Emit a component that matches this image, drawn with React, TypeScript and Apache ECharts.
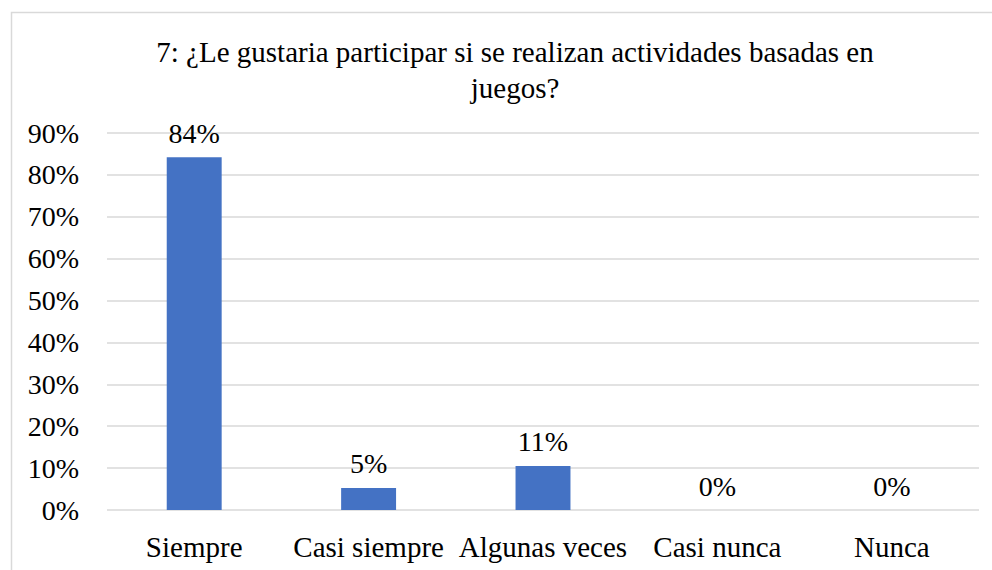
import React, { useEffect, useRef } from "react";
import * as echarts from "echarts";

const titleText = "7: ¿Le gustaria participar si se realizan actividades basadas en\njuegos?";
const categories = ["Siempre", "Casi siempre", "Algunas veces", "Casi nunca", "Nunca"];
const values = [0.8421, 0.0526, 0.1053, 0, 0];
const yTicks = { min: 0, max: 0.9, interval: 0.1 };

const FONT = "Liberation Serif";

export default function App() {
  const ref = useRef<HTMLDivElement>(null);
  useEffect(() => {
    if (!ref.current) return;
    const chart = echarts.init(ref.current, null, { renderer: "svg" });
    chart.setOption({
      animation: false,
      backgroundColor: "#ffffff",
      textStyle: { fontFamily: FONT },
      graphic: [
        {
          type: "rect",
          shape: { x: 11.5, y: 12.5, width: 1000, height: 600 },
          style: { fill: "none", stroke: "#d9d9d9", lineWidth: 1.5 },
          silent: true,
          z: -1,
        },
      ],
      title: {
        text: titleText,
        left: 515,
        top: 34,
        padding: 0,
        textAlign: "center",
        textStyle: {
          fontFamily: FONT,
          fontSize: 29,
          fontWeight: "normal",
          color: "#000",
          lineHeight: 36,
        },
      },
      grid: { left: 107, right: 13, top: 133, bottom: 60, containLabel: false },
      xAxis: {
        type: "category",
        data: categories,
        axisLine: { show: false },
        axisTick: { show: false },
        axisLabel: {
          fontFamily: FONT,
          fontSize: 29,
          color: "#000",
          margin: 22,
          interval: 0,
        },
      },
      yAxis: {
        type: "value",
        min: yTicks.min,
        max: yTicks.max,
        interval: yTicks.interval,
        axisLine: { show: false },
        axisTick: { show: false },
        splitLine: { lineStyle: { color: "#d9d9d9", width: 1.5 } },
        axisLabel: {
          fontFamily: FONT,
          fontSize: 28,
          color: "#000",
          margin: 28,
          formatter: (v: number) => Math.round(v * 100) + "%",
        },
      },
      series: [
        {
          type: "bar",
          data: values,
          barWidth: "31.5%",
          itemStyle: { color: "#4472C4" },
          label: {
            show: true,
            position: "top",
            distance: 10,
            fontFamily: FONT,
            fontSize: 28,
            color: "#000",
            formatter: (p: any) => Math.round(p.value * 100) + "%",
          },
        },
      ],
    });
    return () => chart.dispose();
  }, []);
  return (
    <div
      ref={ref}
      style={{ position: "fixed", left: 0, top: 0, width: 992, height: 570 }}
    />
  );
}
